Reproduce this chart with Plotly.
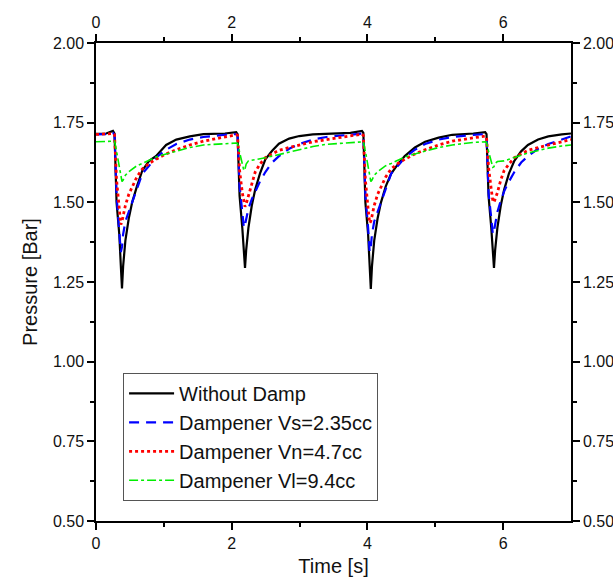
import plotly.graph_objects as go

# Time axis samples [s]
time_s = [
    0.00, 0.15, 0.25, 0.273, 0.303, 0.343, 0.366, 0.383, 0.400, 0.433, 0.483, 0.533, 0.603, 0.683, 0.783, 0.883, 1.033, 1.183, 1.383, 1.583,
    1.90, 2.066, 2.086, 2.116, 2.156, 2.179, 2.196, 2.213, 2.246, 2.296, 2.346, 2.416, 2.496, 2.596, 2.696, 2.846, 2.996, 3.196, 3.396,
    3.75, 3.92, 3.94, 3.97, 4.01, 4.033, 4.05, 4.067, 4.10, 4.15, 4.20, 4.27, 4.35, 4.45, 4.55, 4.70, 4.85, 5.05, 5.25,
    5.56, 5.735, 5.755, 5.785, 5.825, 5.848, 5.865, 5.882, 5.915, 5.965, 6.015, 6.085, 6.165, 6.265, 6.365, 6.515, 6.665, 6.865, 7.0,
]

without_damp = [
    1.715, 1.716, 1.724, 1.716, 1.50, 1.40, 1.30, 1.23, 1.30, 1.38, 1.45, 1.50, 1.55, 1.60, 1.63, 1.645, 1.68, 1.697, 1.707, 1.714,
    1.716, 1.72, 1.714, 1.52, 1.42, 1.35, 1.294, 1.35, 1.42, 1.49, 1.54, 1.59, 1.635, 1.662, 1.684, 1.70, 1.708, 1.713, 1.715,
    1.718, 1.724, 1.718, 1.50, 1.40, 1.30, 1.228, 1.30, 1.38, 1.45, 1.50, 1.55, 1.59, 1.62, 1.645, 1.672, 1.69, 1.703, 1.712,
    1.716, 1.72, 1.714, 1.52, 1.42, 1.35, 1.294, 1.35, 1.42, 1.49, 1.54, 1.59, 1.63, 1.66, 1.68, 1.697, 1.707, 1.713, 1.716,
]

damp_vs = [
    1.713, 1.714, 1.718, 1.713, 1.52, 1.42, 1.344, 1.36, 1.40, 1.44, 1.47, 1.50, 1.545, 1.59, 1.615, 1.64, 1.665, 1.683, 1.697, 1.705,
    1.712, 1.714, 1.71, 1.55, 1.47, 1.42, 1.43, 1.45, 1.48, 1.51, 1.535, 1.565, 1.595, 1.625, 1.645, 1.668, 1.683, 1.697, 1.705,
    1.712, 1.716, 1.712, 1.52, 1.42, 1.344, 1.36, 1.40, 1.44, 1.47, 1.50, 1.545, 1.59, 1.615, 1.64, 1.665, 1.683, 1.697, 1.705,
    1.712, 1.714, 1.71, 1.53, 1.45, 1.40, 1.41, 1.43, 1.47, 1.505, 1.535, 1.565, 1.595, 1.625, 1.645, 1.668, 1.683, 1.697, 1.707,
]

damp_vn = [
    1.713, 1.714, 1.716, 1.712, 1.57, 1.48, 1.43, 1.44, 1.46, 1.49, 1.525, 1.55, 1.58, 1.605, 1.622, 1.635, 1.652, 1.665, 1.68, 1.692,
    1.706, 1.712, 1.71, 1.60, 1.53, 1.495, 1.486, 1.495, 1.52, 1.565, 1.595, 1.62, 1.64, 1.652, 1.663, 1.672, 1.68, 1.69, 1.697,
    1.708, 1.714, 1.71, 1.57, 1.48, 1.435, 1.44, 1.46, 1.49, 1.525, 1.55, 1.58, 1.605, 1.622, 1.635, 1.652, 1.665, 1.68, 1.692,
    1.703, 1.708, 1.705, 1.61, 1.54, 1.505, 1.50, 1.51, 1.53, 1.57, 1.60, 1.62, 1.64, 1.652, 1.663, 1.672, 1.68, 1.69, 1.697,
]

damp_vl = [
    1.69, 1.692, 1.693, 1.692, 1.66, 1.61, 1.58, 1.565, 1.57, 1.585, 1.596, 1.605, 1.615, 1.622, 1.632, 1.642, 1.652, 1.66, 1.672, 1.68,
    1.685, 1.686, 1.685, 1.66, 1.62, 1.60, 1.605, 1.62, 1.63, 1.632, 1.633, 1.635, 1.64, 1.645, 1.65, 1.657, 1.665, 1.675, 1.682,
    1.688, 1.69, 1.69, 1.66, 1.61, 1.58, 1.565, 1.57, 1.585, 1.596, 1.605, 1.615, 1.622, 1.632, 1.642, 1.652, 1.66, 1.672, 1.68,
    1.688, 1.69, 1.688, 1.66, 1.625, 1.61, 1.612, 1.622, 1.628, 1.628, 1.63, 1.635, 1.64, 1.648, 1.655, 1.663, 1.67, 1.677, 1.68,
]

series_names = ["Without Damp", "Dampener Vs=2.35cc", "Dampener Vn=4.7cc", "Dampener Vl=9.4cc"]
x_ticks = [0, 2, 4, 6]
y_ticks = [0.50, 0.75, 1.00, 1.25, 1.50, 1.75, 2.00]

FONT = "Arial, Liberation Sans, sans-serif"

fig = go.Figure()
styles = [
    dict(color="#000000", width=2.2, dash="solid"),
    dict(color="#0000FF", width=2.2, dash="10px,7px"),
    dict(color="#FF0000", width=2.8, dash="dot"),
    dict(color="#00EE00", width=1.6, dash="dashdot"),
]
for name, vals, st in zip(series_names, [without_damp, damp_vs, damp_vn, damp_vl], styles):
    fig.add_trace(go.Scatter(x=time_s, y=vals, mode="lines", name=name, line=st))

# invisible trace so the mirrored top/right axes are drawn
fig.add_trace(go.Scatter(x=time_s, y=without_damp, mode="lines", xaxis="x2", yaxis="y2",
                         line=dict(width=0), opacity=0, showlegend=False, hoverinfo="skip"))

axis_common = dict(
    showgrid=False, zeroline=False, showline=True, linecolor="black", linewidth=1.5,
    ticks="outside", ticklen=7, tickwidth=1.5, tickcolor="black", automargin=False,
    tickfont=dict(family=FONT, size=16, color="#111"),
)
minor_x = dict(ticks="outside", tickvals=[1, 3, 5], ticklen=4, tickwidth=1.5, tickcolor="black")
minor_y = dict(ticks="outside", tickvals=[0.625, 0.875, 1.125, 1.375, 1.625, 1.875], ticklen=4, tickwidth=1.5, tickcolor="black")

fig.update_layout(
    width=613, height=586,
    margin=dict(l=96, r=42, t=43, b=65),
    paper_bgcolor="white", plot_bgcolor="white",
    font=dict(family=FONT, color="#111"),
    xaxis=dict(range=[0, 7], tickvals=x_ticks, ticktext=[str(v) for v in x_ticks], minor=minor_x,
               title=dict(text="Time [s]", font=dict(family=FONT, size=20, color="#111"), standoff=8),
               **axis_common),
    yaxis=dict(range=[0.5, 2.0], tickvals=y_ticks, ticktext=[f"{v:.2f}" for v in y_ticks], minor=minor_y,
               title=dict(text="Pressure [Bar]", font=dict(family=FONT, size=20, color="#111"), standoff=10),
               **axis_common),
    xaxis2=dict(range=[0, 7], overlaying="x", side="top", anchor="y", tickvals=x_ticks,
                ticktext=[str(v) for v in x_ticks], minor=minor_x, **axis_common),
    yaxis2=dict(range=[0.5, 2.0], overlaying="y", side="right", anchor="x", tickvals=y_ticks,
                ticktext=[f"{v:.2f}" for v in y_ticks], minor=minor_y, **axis_common),
    legend=dict(x=0.057, y=0.31, xanchor="left", yanchor="top",
                bgcolor="white", bordercolor="#555", borderwidth=1, itemwidth=45,
                font=dict(family=FONT, size=20, color="#111"), tracegroupgap=0),
    showlegend=True,
)

fig.write_html("out.html", config={"displayModeBar": False},
               post_script="document.body.style.margin='0';document.body.style.overflow='hidden';")
